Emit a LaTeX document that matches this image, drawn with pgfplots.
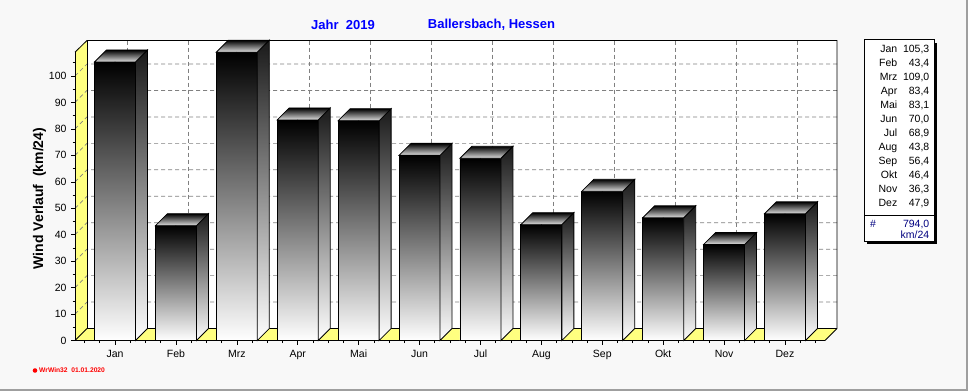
\documentclass[border=0pt]{standalone}
\usepackage{fontspec}
\setmainfont{Liberation Sans}
\usepackage{pgfplots}
\pgfplotsset{compat=1.18}
\usepackage{pgfplotstable}
\definecolor{bg}{RGB}{248,248,248}
\definecolor{wallyellow}{RGB}{255,255,128}
\definecolor{titleblue}{RGB}{0,0,255}
\definecolor{navyblue}{RGB}{0,0,128}
\definecolor{gridgray}{RGB}{128,128,128}

\pgfplotstableread{
x v
0 105.3
1 43.4
2 109.0
3 83.4
4 83.1
5 70.0
6 68.9
7 43.8
8 56.4
9 46.4
10 36.3
11 47.9
}\wind

\begin{document}
\begin{tikzpicture}
\begin{scope}[x=1pt,y=-1pt]
  % background
  \fill[bg] (0,0) rectangle (968,391);
  \fill[gray!75] (966,0) rectangle (968,391);
  \fill[gray!75] (0,389) rectangle (968,391);
  % back wall
  \fill[white] (87,40.5) rectangle (837,328.5);
  % left wall
  \fill[wallyellow] (75,340.5) -- (75,52.2) -- (87,40.5) -- (87,328.5) -- cycle;
  % floor
  \fill[wallyellow] (75,340.5) -- (825,340.5) -- (837,328.5) -- (87,328.5) -- cycle;
  % horizontal grid
  \foreach \v in {10,20,...,100} {
    \pgfmathsetmacro\yy{340.5-2.645*\v}
    \draw[gridgray,line width=0.7pt,dash pattern=on 4pt off 3pt] (75,\yy) -- (87,\yy-12) -- (837,\yy-12);
  }
  % vertical grid on back wall
  \foreach \i in {0,...,11} {
    \pgfmathsetmacro\xx{127+60.9*\i}
    \draw[gridgray,line width=0.7pt,dash pattern=on 4pt off 3pt] (\xx,40.5) -- (\xx,328.5);
  }
  % borders
  \draw[black,line width=0.8pt] (75,52.2) -- (87,40.5) -- (837,40.5) -- (837,328.5) -- (825,340.5);
  \draw[black,line width=0.8pt] (87,40.5) -- (87,328.5) -- (837,328.5);
  \draw[black,line width=0.8pt] (75,340.5) -- (87,328.5);
  % titles
  \node[anchor=west,inner sep=0,text=titleblue,font=\bfseries\fontsize{13}{15}\selectfont] at (311,24.5) {Jahr\ \ 2019};
  \node[anchor=west,inner sep=0,text=titleblue,font=\bfseries\fontsize{13}{15}\selectfont] at (427.7,24.5) {Ballersbach, Hessen};
  % y label
  \node[rotate=90,inner sep=0,font=\bfseries\fontsize{14}{16}\selectfont] at (39.5,198.5) {Wind Verlauf\ \ (km/24)};
  % footer
  \fill[red] (35,370.5) circle (2.3);
  \node[anchor=west,inner sep=0,text=red,font=\bfseries\fontsize{6.7}{8}\selectfont] at (39,370.5) {WrWin32\ \ 01.01.2020};
  % legend box
  \fill[black] (867,42.5) rectangle (937,244);
  \filldraw[fill=white,draw=black,line width=0.8pt] (864,39.5) rectangle (934,241);
  \draw[black,line width=0.8pt] (864,215.7) -- (934,215.7);
  \foreach \m/\val [count=\k from 0] in {Jan/{105,3},Feb/{43,4},Mrz/{109,0},Apr/{83,4},Mai/{83,1},Jun/{70,0},Jul/{68,9},Aug/{43,8},Sep/{56,4},Okt/{46,4},Nov/{36,3},Dez/{47,9}} {
    \node[anchor=base east,inner sep=0,font=\fontsize{10.5}{12}\selectfont] at (897.5,52.2+14*\k) {\m};
    \node[anchor=base east,inner sep=0,font=\fontsize{10.5}{12}\selectfont] at (929.5,52.2+14*\k) {\val};
  }
  \node[anchor=base,inner sep=0,text=navyblue,font=\fontsize{10.5}{12}\selectfont] at (873,227.2) {\#};
  \node[anchor=base east,inner sep=0,text=navyblue,font=\fontsize{10.5}{12}\selectfont] at (929.5,227.2) {794,0};
  \node[anchor=base east,inner sep=0,text=navyblue,font=\fontsize{10.5}{12}\selectfont] at (929.5,238.7) {km/24};
\end{scope}

\begin{axis}[
  at={(75pt,-340.5pt)}, anchor=south west,
  scale only axis, width=750pt, height=288.3pt,
  xmin=-0.657, xmax=11.657, ymin=0, ymax=109,
  axis lines*=left,
  axis line style={black,-,line width=0.8pt},
  x axis line style={line width=1.6pt},
  clip=false,
  xtick={0,...,11},
  xticklabels={Jan,Feb,Mrz,Apr,Mai,Jun,Jul,Aug,Sep,Okt,Nov,Dez},
  minor xtick={-0.5,-0.25,...,11.5},
  ytick={0,10,...,100},
  minor ytick={5,15,...,105},
  tick align=outside,
  major tick length=4pt, minor tick length=2.5pt,
  tick style={black,line width=0.6pt},
  ticklabel style={font=\fontsize{10.5}{12}\selectfont},
  /pgf/number format/assume math mode=true,
  xticklabel style={yshift=-1.5pt,text height=8pt,text depth=2pt},
  yticklabel style={xshift=-1pt},
]
\addplot[scatter, only marks, mark=*, mark size=0.01pt,
  visualization depends on={\thisrow{v} \as \vv},
  scatter/@pre marker code/.code={%
    \pgfmathsetmacro\hh{\vv*2.645}%
    \begin{scope}
    \shade[top color=black, middle color=black!65, bottom color=white, draw=black, line width=0.8pt]
      (-20.5pt,0pt) rectangle (20.5pt,-\hh pt);
    \shade[top color=black!90, middle color=black!60, bottom color=white, draw=black, line width=0.8pt]
      (20.5pt,0pt) -- (32.5pt,12pt) -- (32.5pt,12pt-\hh pt) -- (20.5pt,-\hh pt) -- cycle;
    \shade[top color=black, bottom color=black!12, draw=black, line width=0.8pt]
      (-20.5pt,0pt) -- (20.5pt,0pt) -- (32.5pt,12pt) -- (-8.5pt,12pt) -- cycle;
    \end{scope}
  },
  scatter/@post marker code/.code={},
] table[x=x,y=v] {\wind};
\end{axis}
\end{tikzpicture}
\end{document}
